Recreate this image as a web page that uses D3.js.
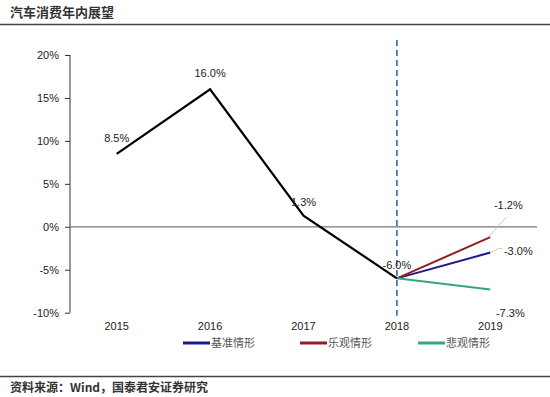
<!DOCTYPE html>
<html>
<head>
<meta charset="utf-8">
<script src="https://cdn.jsdelivr.net/npm/d3@7"></script>
<style>
  body { margin: 0; background: #fff; }
  svg { display: block; font-family: "Liberation Sans", Arial, sans-serif; }
  .axis text { font-size: 11px; fill: #222; }
  .axis path, .axis line { stroke: #333; }
  .lbl { font-size: 11px; fill: #222; }
  .cjk { font-family: "Noto Sans CJK SC", sans-serif; }
</style>
</head>
<body>
<svg id="chart"></svg>
<script>
// data
const years = ['2015', '2016', '2017', '2018', '2019'];
const history = [8.5, 16.0, 1.3, -6.0];
const scenarioNames = ['基准情形', '乐观情形', '悲观情形'];
const scenario2019 = [-3.0, -1.2, -7.3];
const scenarioColors = ['#1a1a8c', '#8e1f24', '#3aa57a'];
const yTicks = [-10, -5, 0, 5, 10, 15, 20];

const width = 550, height = 397;
const margin = {top: 55, right: 13, bottom: 85, left: 70};

const svg = d3.select('#chart')
    .attr('width', width)
    .attr('height', height);

// title + rules
svg.append('text')
    .attr('class', 'cjk')
    .attr('x', 10).attr('y', 17)
    .style('font-size', '13px')
    .style('font-weight', 'bold')
    .style('fill', '#333')
    .text('汽车消费年内展望');
svg.append('line')
    .attr('x1', 0).attr('x2', width)
    .attr('y1', 24.5).attr('y2', 24.5)
    .attr('stroke', '#444').attr('stroke-width', 1.5);
svg.append('line')
    .attr('x1', 0).attr('x2', width)
    .attr('y1', 376.5).attr('y2', 376.5)
    .attr('stroke', '#444').attr('stroke-width', 1.5);
svg.append('text')
    .attr('class', 'cjk')
    .attr('x', 10).attr('y', 392)
    .style('font-size', '12px')
    .style('font-weight', 'bold')
    .style('fill', '#333')
    .text('资料来源：Wind，国泰君安证券研究');

const chart = svg.append('g')
    .attr('transform', `translate(${margin.left},${margin.top})`);
const w = width - margin.left - margin.right;
const h = 312.7 - margin.top;

const x = d3.scaleBand().domain(years).range([0, w]);
const y = d3.scaleLinear().domain([-10, 20]).range([h, 0]);
const cx = d => x(d) + x.bandwidth() / 2;

// y axis
chart.append('g')
    .attr('class', 'axis')
    .call(d3.axisLeft(y).tickValues(yTicks).tickSize(5).tickSizeOuter(0).tickPadding(6)
        .tickFormat(d => d + '%'))
    .call(g => g.select('.domain').attr('d', `M0,${y(20)}V${y(-10)}`));

// zero line
chart.append('line')
    .attr('x1', 0).attr('x2', w)
    .attr('y1', y(0)).attr('y2', y(0))
    .attr('stroke', '#777').attr('stroke-width', 1.3);

// x labels
chart.selectAll('.xlbl')
    .data(years)
    .join('text')
    .attr('class', 'lbl')
    .attr('x', d => cx(d))
    .attr('y', y(-10) + 17)
    .attr('text-anchor', 'middle')
    .text(d => d);

// 2018 dashed marker
chart.append('line')
    .attr('x1', cx('2018')).attr('x2', cx('2018'))
    .attr('y1', -15).attr('y2', h + 3)
    .attr('stroke', '#4a73b8').attr('stroke-width', 1.8)
    .attr('stroke-dasharray', '6,4');

// scenario lines
scenario2019.forEach((v, i) => {
  chart.append('path')
      .datum([{yr: '2018', v: history[3]}, {yr: '2019', v: v}])
      .attr('fill', 'none')
      .attr('stroke', scenarioColors[i])
      .attr('stroke-width', 2)
      .attr('d', d3.line().x(d => cx(d.yr)).y(d => y(d.v)));
});

// historical line
chart.append('path')
    .datum(history.map((v, i) => ({yr: years[i], v: v})))
    .attr('fill', 'none')
    .attr('stroke', '#000')
    .attr('stroke-width', 2.2)
    .attr('d', d3.line().x(d => cx(d.yr)).y(d => y(d.v)));

// data labels
const histOffsets = [[0, -12], [0, -12], [0, -10], [0, -9]];
history.forEach((v, i) => {
  chart.append('text')
      .attr('class', 'lbl')
      .attr('x', cx(years[i]) + histOffsets[i][0])
      .attr('y', y(v) + histOffsets[i][1])
      .attr('text-anchor', 'middle')
      .text(v.toFixed(1) + '%');
});

// 2019 labels with leader lines
const scOffsets = [[28, 2], [18, -28], [20, 27]];
scenario2019.forEach((v, i) => {
  const px = cx('2019'), py = y(v);
  const [dx, dy] = scOffsets[i];
  if (i < 2) {
    chart.append('path')
        .attr('fill', 'none')
        .attr('stroke', '#bbb')
        .attr('stroke-width', 0.8)
        .attr('d', i === 1
          ? `M${px - 2},${py}L${px + dx - 2},${py + dy + 8}`
          : `M${px},${py}L${px + 8},${py - 4}L${px + dx - 16},${py - 4}`);
  }
  chart.append('text')
      .attr('class', 'lbl')
      .attr('x', px + dx)
      .attr('y', py + dy + (i === 0 ? 0 : 0))
      .attr('text-anchor', 'middle')
      .text(v.toFixed(1) + '%');
});

// legend
const legend = svg.append('g')
    .attr('transform', 'translate(0,343)');
const legendX = [183, 300, 418];
scenarioNames.forEach((name, i) => {
  legend.append('line')
      .attr('x1', legendX[i]).attr('x2', legendX[i] + 27)
      .attr('y1', 0).attr('y2', 0)
      .attr('stroke', scenarioColors[i])
      .attr('stroke-width', 3);
  legend.append('text')
      .attr('class', 'cjk')
      .attr('x', legendX[i] + 28)
      .attr('y', 4)
      .style('font-size', '11px')
      .style('fill', '#555')
      .text(name);
});
</script>
</body>
</html>
